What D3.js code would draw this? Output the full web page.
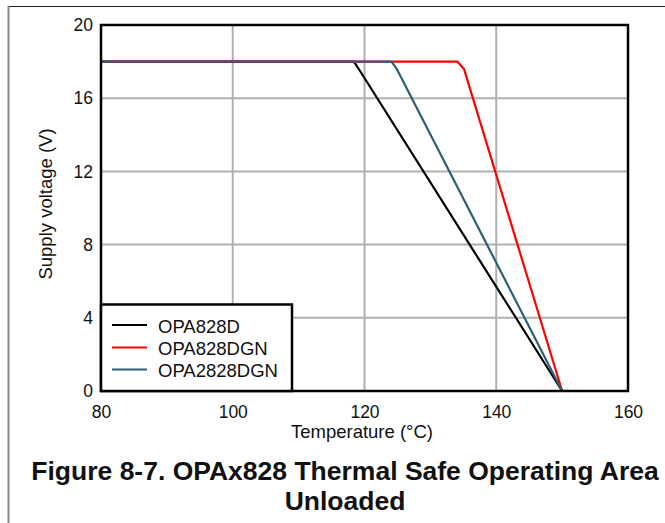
<!DOCTYPE html>
<html><head><meta charset="utf-8">
<script src="https://cdn.jsdelivr.net/npm/d3@7"></script>
<style>body{margin:0;background:#fff}svg{display:block}text{font-family:"Liberation Sans",Arial,sans-serif}</style>
</head><body><svg id="c" width="665" height="523"></svg>
<script>
const xTicks=[80,100,120,140,160];
const yTicks=[0,4,8,12,16,20];
const seriesNames=["OPA828D","OPA828DGN","OPA2828DGN"];
const seriesColors=["#000000","#ff0000","#2e5f78"];
const opa828d=[[80,18],[118.4,18],[119.3,17.5],[150,0]];
const opa828dgn=[[80,18],[134.1,18],[135.1,17.6],[150,0]];
const opa2828dgn=[[80,18],[124.1,18],[124.9,17.6],[150,0]];
const seriesData=[opa828d,opa828dgn,opa2828dgn];

const svg=d3.select("#c");
const L=101,R=628,T=25,B=391;
const FS=18.5, TFS=17.5;
const x=d3.scaleLinear().domain([80,160]).range([L,R]);
const y=d3.scaleLinear().domain([0,20]).range([B,T]);

// frame
svg.append("line").attr("x1",8).attr("x2",665).attr("y1",6.5).attr("y2",6.5).attr("stroke","#222").attr("stroke-width",1.2);
svg.append("line").attr("x1",8.5).attr("x2",8.5).attr("y1",6).attr("y2",523).attr("stroke","#888").attr("stroke-width",2);

// grid
svg.append("g").selectAll("line").data(xTicks.slice(1,-1)).join("line")
 .attr("x1",d=>x(d)).attr("x2",d=>x(d)).attr("y1",T).attr("y2",B).attr("stroke","#b0b0b0").attr("stroke-width",2);
svg.append("g").selectAll("line").data(yTicks.slice(1,-1)).join("line")
 .attr("y1",d=>y(d)).attr("y2",d=>y(d)).attr("x1",L).attr("x2",R).attr("stroke","#b0b0b0").attr("stroke-width",2);

// axes labels
const xa=svg.append("g").attr("transform",`translate(0,${B})`).call(d3.axisBottom(x).tickValues(xTicks).tickSize(0).tickPadding(15));
xa.select(".domain").remove();
xa.selectAll("text").attr("font-size",TFS).attr("fill","#111").attr("font-family","Liberation Sans");
const ya=svg.append("g").attr("transform",`translate(${L},0)`).call(d3.axisLeft(y).tickValues(yTicks).tickSize(0).tickPadding(8));
ya.select(".domain").remove();
ya.selectAll("text").attr("font-size",TFS).attr("fill","#111").attr("font-family","Liberation Sans");

// lines
const line=d3.line().x(d=>x(d[0])).y(d=>y(d[1]));
svg.append("g").selectAll("path").data(seriesData).join("path")
 .attr("d",line).attr("fill","none").attr("stroke",(d,i)=>seriesColors[i]).attr("stroke-width",2.2).attr("stroke-linejoin","round");

// plot border
svg.append("rect").attr("x",L).attr("y",T).attr("width",R-L).attr("height",B-T).attr("fill","none").attr("stroke","#000").attr("stroke-width",2.5);

// legend
const lg=svg.append("g");
lg.append("rect").attr("x",L).attr("y",304.5).attr("width",292-L).attr("height",B-304.5).attr("fill","#fff").attr("stroke","#000").attr("stroke-width",2.5);
const rows=[325,347.5,369.5];
seriesNames.forEach((n,i)=>{
 lg.append("line").attr("x1",112).attr("x2",147).attr("y1",rows[i]).attr("y2",rows[i]).attr("stroke",seriesColors[i]).attr("stroke-width",2.2);
 lg.append("text").attr("x",158).attr("y",rows[i]+7.5).attr("font-size",FS).attr("fill","#111").text(n);
});

// axis titles
svg.append("text").attr("x",362).attr("y",438).attr("text-anchor","middle").attr("font-size",FS).attr("fill","#111").text("Temperature (°C)");
svg.append("text").attr("transform","translate(52,204) rotate(-90)").attr("text-anchor","middle").attr("font-size",FS).attr("fill","#111").text("Supply voltage (V)");

// title
svg.append("text").attr("x",345).attr("y",480).attr("text-anchor","middle").attr("font-size",26.5).attr("font-weight","bold").attr("fill","#111").text("Figure 8-7. OPAx828 Thermal Safe Operating Area");
svg.append("text").attr("x",345).attr("y",510).attr("text-anchor","middle").attr("font-size",26.5).attr("font-weight","bold").attr("fill","#111").text("Unloaded");
</script></body></html>
